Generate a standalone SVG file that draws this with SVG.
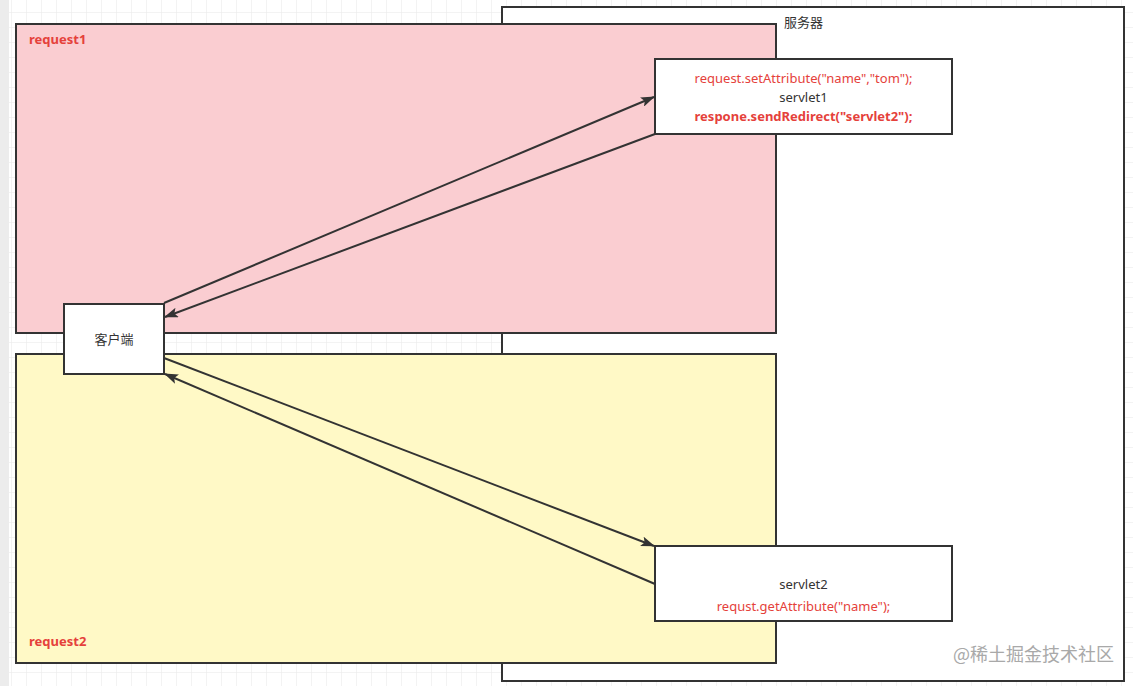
<svg xmlns="http://www.w3.org/2000/svg" width="1133" height="686" viewBox="0 0 1133 686">
<defs>
<pattern id="grid" x="11" y="12" width="15" height="15" patternUnits="userSpaceOnUse">
<path d="M0 0H15M0 0V15" fill="none" stroke="#e8e8e8" stroke-width="1"/>
</pattern>
<marker id="arr" viewBox="0 0 14 10" refX="13" refY="5" markerWidth="14" markerHeight="10" markerUnits="userSpaceOnUse" orient="auto">
<path d="M0 0L14 5L0 10L3 5Z" fill="#333"/>
</marker>
</defs>
<style>
.box{stroke:#333;stroke-width:2}
.t{font-family:"Noto Sans","Liberation Sans","Noto Sans CJK SC",sans-serif;font-size:13px;fill:#333}
.r{fill:#e5413b}
.b{font-weight:bold}
.edge{stroke:#333;stroke-width:2;fill:none;marker-end:url(#arr)}
</style>
<rect width="1133" height="686" fill="#fff"/>
<rect width="1133" height="686" fill="url(#grid)"/>
<rect x="0" y="0" width="9" height="686" fill="#ececec"/>
<g id="server">
<rect class="box" x="502" y="7" width="622" height="674" fill="#fff"/>
<text class="t" x="784" y="27">服务器</text>
</g>
<g id="request1">
<rect class="box" x="16" y="24" width="760" height="309" fill="#facdd1"/>
<text class="t r b" x="29" y="44">request1</text>
</g>
<g id="request2">
<rect class="box" x="16" y="354" width="760" height="309" fill="#fff9c6"/>
<text class="t r b" x="29" y="646">request2</text>
</g>
<g id="client">
<rect class="box" x="64" y="304" width="100" height="70" fill="#fff"/>
<text class="t" x="114" y="344" text-anchor="middle">客户端</text>
</g>
<g id="servlet1">
<rect class="box" x="655" y="59" width="297" height="75" fill="#fff"/>
<text class="t r" x="803.5" y="83" text-anchor="middle">request.setAttribute("name","tom");</text>
<text class="t" x="803.5" y="102" text-anchor="middle">servlet1</text>
<text class="t r b" x="803.5" y="121" text-anchor="middle">respone.sendRedirect("servlet2");</text>
</g>
<g id="servlet2">
<rect class="box" x="655" y="546" width="297" height="75" fill="#fff"/>
<text class="t" x="803.5" y="589" text-anchor="middle">servlet2</text>
<text class="t r" x="803.5" y="611" text-anchor="middle">requst.getAttribute("name");</text>
</g>
<g id="connectors">
<line class="edge" x1="164" y1="303" x2="654" y2="97"/>
<line class="edge" x1="655" y1="134" x2="165" y2="317"/>
<line class="edge" x1="164" y1="358" x2="654" y2="546"/>
<line class="edge" x1="655" y1="584" x2="165" y2="374"/>
</g>
<text x="953" y="661" style="font-family:'Noto Sans CJK SC',sans-serif;font-size:18px;fill:#a0a0a0;opacity:0.9">@稀土掘金技术社区</text>
</svg>
